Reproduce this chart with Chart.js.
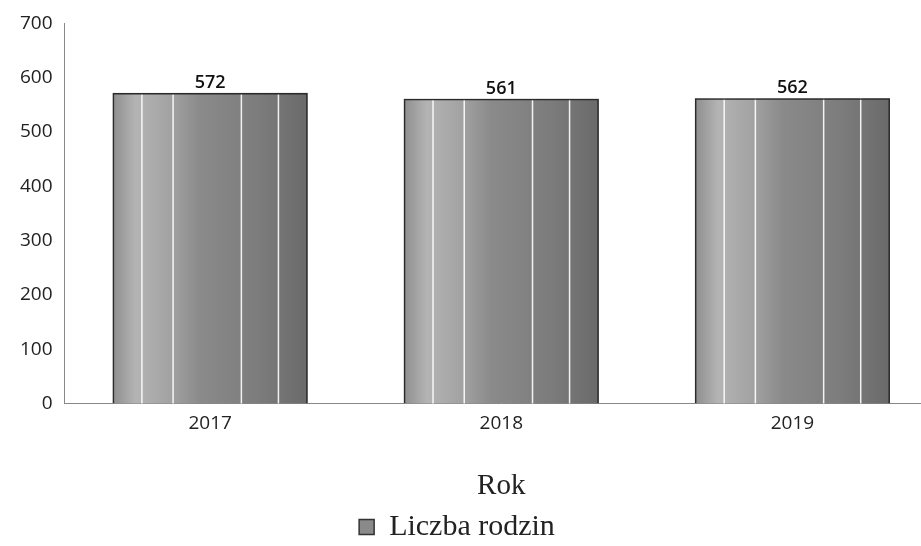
<!DOCTYPE html>
<html>
<head>
<meta charset="utf-8">
<script src="https://cdn.jsdelivr.net/npm/chart.js@4/dist/chart.umd.min.js"></script>
<style>
  html, body { margin: 0; background: #fff; overflow: hidden; }
  #wrap { width: 921px; height: 546px; overflow: hidden; }
</style>
</head>
<body>
<div id="wrap"><canvas id="chart" width="938" height="546"></canvas></div>
<script>
/**
 * Data
 */
const years = ['2017', '2018', '2019'];
const families = [572, 561, 562];
const yMax = 700;
const yStep = 100;
const SERIES_LABEL = 'Liczba rodzin';

const SANS = '"Open Sans", "Liberation Sans", sans-serif';
const SERIF = '"Liberation Serif", "DejaVu Serif", serif';

// white streaks across every bar, as a share of the bar width
const streaks = [0.15, 0.31, 0.66, 0.85];

/**
 * Paint grey gradient and white streaks into each bar, values above
 */
const barPaint = {
  id: 'barPaint',
  afterLayout(chart) {
    // the scan is cut on the right, so pull the legend back to the visible middle
    chart.legend.left -= 16;
    chart.legend.right -= 16;
    chart.legend.top += 6;
    chart.legend.bottom += 6;
  },
  beforeDatasetsDraw(chart) {
    const ctx = chart.ctx;
    chart.getDatasetMeta(0).data.forEach(function (bar) {
      const p = bar.getProps(['x', 'y', 'width', 'base'], true);
      const left = p.x - p.width / 2;
      const g = ctx.createLinearGradient(left, 0, left + p.width, 0);
      g.addColorStop(0, '#8e8e8e');
      g.addColorStop(0.12, '#b4b4b4');
      g.addColorStop(0.3, '#a2a2a2');
      g.addColorStop(0.45, '#8a8a8a');
      g.addColorStop(0.75, '#7c7c7c');
      g.addColorStop(1, '#6a6a6a');
      ctx.save();
      ctx.fillStyle = g;
      ctx.fillRect(left, p.y, p.width, p.base - p.y);
      ctx.strokeStyle = 'rgba(255,255,255,0.9)';
      ctx.lineWidth = 1.5;
      streaks.forEach(function (s) {
        const x = left + p.width * s;
        ctx.beginPath();
        ctx.moveTo(x, p.y);
        ctx.lineTo(x, p.base);
        ctx.stroke();
      });
      ctx.restore();
    });
  },
  afterDatasetsDraw(chart) {
    const ctx = chart.ctx;
    const values = chart.data.datasets[0].data;
    ctx.save();
    ctx.font = '600 18px ' + SANS;
    ctx.fillStyle = '#111';
    ctx.textAlign = 'center';
    ctx.textBaseline = 'bottom';
    chart.getDatasetMeta(0).data.forEach(function (bar, i) {
      ctx.fillText(values[i], bar.x, bar.y - 1);
    });
    ctx.restore();
  }
};

const config = {
  type: 'bar',
  data: {
    labels: years,
    datasets: [{
      label: SERIES_LABEL,
      data: families,
      backgroundColor: 'rgba(0,0,0,0)',
      borderColor: '#2a2a2a',
      borderWidth: 1.5,
      barPercentage: 0.67,
      categoryPercentage: 1
    }]
  },
  options: {
    responsive: false,
    animation: false,
    layout: { padding: { top: 22, left: 8, right: 0, bottom: 0 } },
    plugins: {
      tooltip: { enabled: false },
      legend: {
        position: 'bottom',
        labels: {
          font: { family: SERIF, size: 30 },
          color: '#222',
          boxWidth: 15,
          boxHeight: 15,
          padding: 2,
          generateLabels: function () {
            return [{
              text: SERIES_LABEL,
              fillStyle: '#8a8a8a',
              strokeStyle: '#333',
              lineWidth: 1.5,
              fontColor: '#222'
            }];
          }
        }
      }
    },
    scales: {
      x: {
        grid: { display: false, drawTicks: false },
        border: { display: true, color: '#888', width: 1 },
        ticks: {
          color: '#222',
          font: { family: SANS, size: 19 },
          padding: 9
        },
        title: {
          display: true,
          text: 'Rok',
          color: '#222',
          font: { family: SERIF, size: 29 },
          padding: { top: 25, bottom: 0 }
        }
      },
      y: {
        min: 0,
        max: yMax,
        grid: { display: false, drawTicks: false },
        border: { display: true, color: '#888', width: 1 },
        ticks: {
          stepSize: yStep,
          color: '#222',
          font: { family: SANS, size: 19 },
          padding: 12
        }
      }
    }
  },
  plugins: [barPaint]
};

new Chart(document.getElementById('chart'), config);
</script>
</body>
</html>
